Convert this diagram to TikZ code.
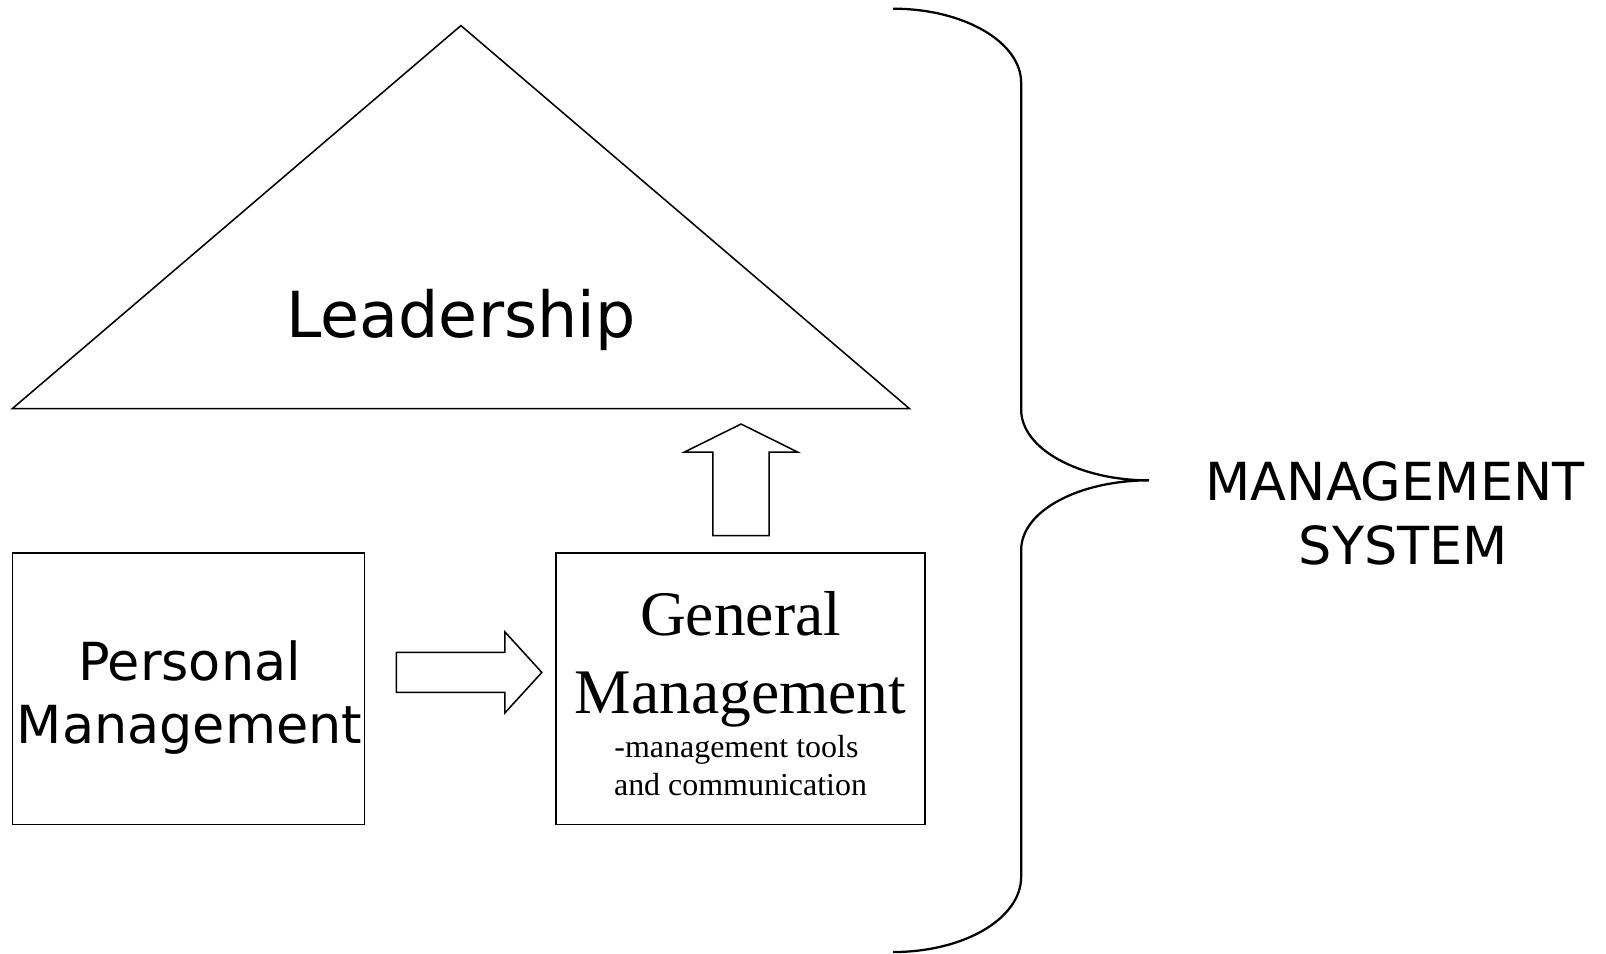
\documentclass[tikz,border=0pt]{standalone}
\usepackage{fontspec}
\usetikzlibrary{positioning,calc}
\newfontfamily\vsans{DejaVu Sans}
\newfontfamily\tserif{Liberation Serif}

\begin{document}
\begin{tikzpicture}[
    x=0.5pt, y=-0.5pt,
    outline/.style={draw=black, line width=0.75pt},
    box/.style={rectangle, draw=black, line width=0.75pt, minimum width=#1, minimum height=132.5pt, inner sep=0pt},
    big label/.style={anchor=base, inner sep=0pt, font=\vsans\fontsize{31}{36}\selectfont},
    sans label/.style={anchor=base, inner sep=0pt, font=\vsans\fontsize{25.6}{31}\selectfont},
    serif label/.style={anchor=base, inner sep=0pt, font=\tserif\fontsize{31}{38}\selectfont},
    small label/.style={anchor=base, inner sep=0pt, font=\tserif\fontsize{15.6}{18.5}\selectfont},
    brace/.style={draw=black, line width=1.1pt}
]

\useasboundingbox (0,0) rectangle (1568,930.5);

% Top - Leadership triangle
\coordinate (apex) at (450,25);
\coordinate (baseL) at (12,399);
\coordinate (baseR) at (888,399);
\draw[outline] (apex) -- (baseR) -- (baseL) -- cycle;
\node[big label] (lead) at (450,330) {Leadership};

% Bottom - Personal Management
\node[box=172pt] (personal) at (184,672.5) {};
\node[sans label] (personalA) at (185,664) {Personal};
\node[sans label] (personalB) at (185,726) {Management};

% Bottom - General Management
\node[box=180pt] (general) at (723,672.5) {};
\node[serif label] (generalA) at (723,620) {General};
\node[serif label] (generalB) at (723,697) {Management};
\node[small label] (generalC) at (719,740) {-management tools};
\node[small label] (generalD) at (723,777) {and communication};

% Block arrows
\draw[outline] (387,637) -- (493,637) -- (493,617) -- (529,656.5) -- (493,696) -- (493,676) -- (387,676) -- cycle;
\draw[outline] (696,523) -- (696,441.5) -- (668,441.5) -- (723.5,414) -- (779,441.5) -- (751,441.5) -- (751,523) -- cycle;

% Right brace
\draw[brace] (872,8.5) .. controls (941,8.5) and (997,41) .. (997,81) -- (997,400)
    .. controls (997,438) and (1053,469) .. (1122,469)
    .. controls (1053,469) and (997,499) .. (997,537) -- (997,856)
    .. controls (997,897) and (941,929.5) .. (872,929.5);
\node[sans label] (sysA) at (1362,489) {MANAGEMENT};
\node[sans label] (sysB) at (1370,551) {SYSTEM};

\end{tikzpicture}
\end{document}
